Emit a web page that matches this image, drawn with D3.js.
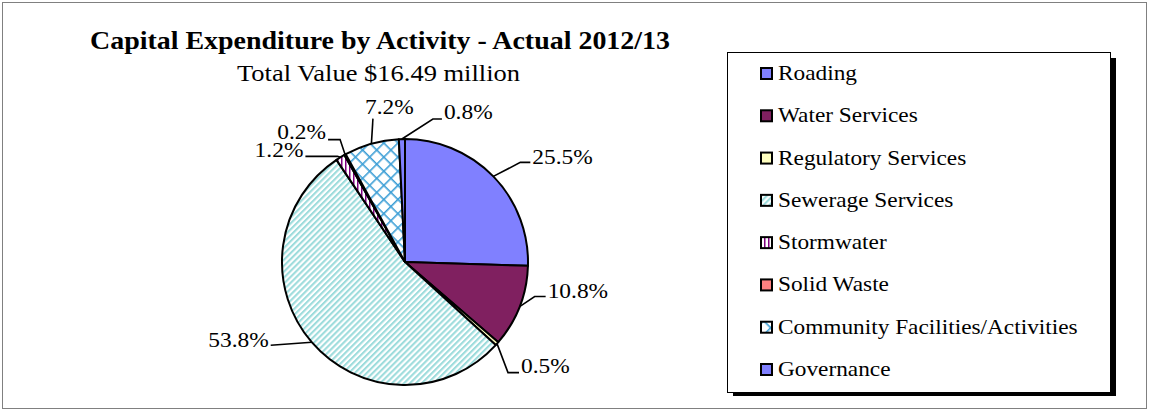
<!DOCTYPE html>
<html>
<head>
<meta charset="utf-8">
<script src="https://cdn.jsdelivr.net/npm/d3@7/dist/d3.min.js"></script>
<style>
  html, body { margin: 0; padding: 0; background: #fff; }
  svg { display: block; font-family: "Liberation Serif", "Times New Roman", serif; }
</style>
</head>
<body>
<svg id="chart" width="1149" height="410"></svg>
<script>
// Capital expenditure shares by activity, 2012/13 (percent of total)
const categories = [
  "Roading", "Water Services", "Regulatory Services", "Sewerage Services",
  "Stormwater", "Solid Waste", "Community Facilities/Activities", "Governance"
];
const shares = [25.5, 10.8, 0.5, 53.8, 1.2, 0.2, 7.2, 0.8];
const titleText = "Capital Expenditure by Activity - Actual 2012/13";
const subtitleText = "Total Value $16.49 million";

const svg = d3.select("#chart");
const defs = svg.append("defs");

// Fill patterns
function stripePattern(id, bg, fg, size, width, angle) {
  const p = defs.append("pattern").attr("id", id)
    .attr("patternUnits", "userSpaceOnUse")
    .attr("width", size).attr("height", size)
    .attr("patternTransform", `rotate(${angle})`);
  p.append("rect").attr("width", size).attr("height", size).attr("fill", bg);
  p.append("rect").attr("width", width).attr("height", size).attr("fill", fg);
}
stripePattern("pat-sewer", "#ffffff", "#9ddcdc", 4.2, 2.1, 45);
stripePattern("pat-storm", "#ffffff", "#800080", 4, 1.5, 0);
(function () {
  const s = 10;
  const p = defs.append("pattern").attr("id", "pat-comm")
    .attr("patternUnits", "userSpaceOnUse")
    .attr("width", s).attr("height", s)
    .attr("patternTransform", "rotate(45)");
  p.append("rect").attr("width", s).attr("height", s).attr("fill", "#ffffff");
  p.append("rect").attr("width", 1.6).attr("height", s).attr("fill", "#3d9fd6");
  p.append("rect").attr("width", s).attr("height", 1.6).attr("fill", "#3d9fd6");
})();

const fills = [
  "#8080ff", "#802060", "#ffffc0", "url(#pat-sewer)",
  "url(#pat-storm)", "#ff8080", "url(#pat-comm)", "#8080ff"
];

// Text placed at (x, y) and widened horizontally by sx
function wideText(parent, x, y, sx, anchor, size, str) {
  return parent.append("text")
    .attr("transform", `translate(${x},${y}) scale(${sx},1)`)
    .attr("text-anchor", anchor)
    .attr("font-size", size)
    .text(str);
}

// Outer frame
svg.append("rect")
  .attr("x", 2.5).attr("y", 2.5).attr("width", 1144).attr("height", 406)
  .attr("fill", "none").attr("stroke", "#808080").attr("stroke-width", 1);

// Titles
svg.append("text").attr("x", 90).attr("y", 48.5)
  .attr("font-weight", "bold").attr("font-size", 24.5)
  .attr("textLength", 580).attr("lengthAdjust", "spacingAndGlyphs")
  .text(titleText);
svg.append("text").attr("x", 237).attr("y", 80.5)
  .attr("font-size", 22.5)
  .attr("textLength", 283).attr("lengthAdjust", "spacingAndGlyphs")
  .text(subtitleText);

// Pie
const cx = 405, cy = 262, radius = 123;
const pie = d3.pie().value(d => d).sort(null);
const arcs = pie(shares);
const arc = d3.arc().innerRadius(0).outerRadius(radius);

const g = svg.append("g").attr("transform", `translate(${cx},${cy})`);
g.selectAll("path.slice").data(arcs).join("path")
  .attr("class", "slice")
  .attr("d", arc)
  .attr("fill", (d, i) => fills[i])
  .attr("stroke", "#000").attr("stroke-width", 2)
  .attr("stroke-linejoin", "round");

// Data labels with leader lines: elbow offset from the slice edge,
// horizontal run, and which side the text sits on.
const labelLayout = [
  { elbow: [27, -14], run: 10, side: "right", dy: 1.5 },
  { elbow: [15, -10], run: 11, side: "right", dy: 1.5 },
  { elbow: [11, 29], run: 11, side: "right", dy: 0.5 },
  { elbow: [-41, 3], run: 0, side: "left", dy: 1.5 },
  { elbow: [-3, -1], run: 32, side: "left", dy: 0.5 },
  { elbow: [-5, -15], run: 12, side: "left", dy: -0.5 },
  { elbow: [1.5, -25], run: 0, side: "above", dy: 0 },
  { elbow: [31, -20], run: 9, side: "right", dy: 0 }
];
const fmt = v => v.toFixed(1) + "%";
const labelScale = 1.09, labelSize = 21.5;

arcs.forEach((d, i) => {
  const a = (d.startAngle + d.endAngle) / 2;
  const ex = Math.sin(a) * radius, ey = -Math.cos(a) * radius;
  const L = labelLayout[i];
  const bx = ex + L.elbow[0], by = ey + L.elbow[1];
  let hx = bx;
  if (L.side === "right") hx = bx + L.run;
  if (L.side === "left") hx = bx - L.run;
  const pts = [[ex, ey], [bx, by], [hx, by]];
  g.append("path")
    .attr("d", d3.line()(pts))
    .attr("fill", "none").attr("stroke", "#000").attr("stroke-width", 1.6);
  const str = fmt(shares[i]);
  if (L.side === "right") {
    wideText(g, hx + 2, by + L.dy, labelScale, "start", labelSize, str);
  } else if (L.side === "left") {
    wideText(g, hx - 2, by + L.dy, labelScale, "end", labelSize, str);
  } else {
    wideText(g, bx - 8, by - 5, labelScale, "start", labelSize, str);
  }
});

// Legend
const lg = svg.append("g");
lg.append("rect").attr("x", 733).attr("y", 58).attr("width", 383).attr("height", 338)
  .attr("fill", "#000");
lg.append("rect").attr("x", 727.5).attr("y", 52.5).attr("width", 383).attr("height", 340)
  .attr("fill", "#fff").attr("stroke", "#000").attr("stroke-width", 1);

const rowY = d3.scalePoint().domain(categories).range([80, 376]);
const rows = lg.selectAll("g.row").data(categories).join("g")
  .attr("class", "row")
  .attr("transform", d => `translate(0,${rowY(d)})`);
rows.append("rect")
  .attr("x", 761).attr("y", -12).attr("width", 11).attr("height", 11)
  .attr("fill", (d, i) => fills[i])
  .attr("stroke", "#000").attr("stroke-width", 2);
rows.each(function (d) {
  wideText(d3.select(this), 778, 0, 1.11, "start", 21, d);
});
</script>
</body>
</html>
